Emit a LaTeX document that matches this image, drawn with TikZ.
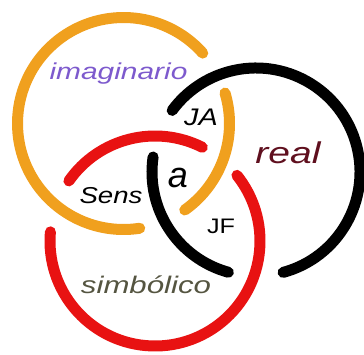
\documentclass[tikz,border=0pt]{standalone}
\usepackage{fontspec}
\setmainfont{Liberation Sans}
\newfontfamily\widesf[FakeStretch=1.3]{Liberation Sans}
\newfontfamily\midsf[FakeStretch=1.2]{Liberation Sans}
\usepackage{tikz}
\definecolor{imagorange}{RGB}{240,160,30}
\definecolor{symbred}{RGB}{232,18,18}
\definecolor{imagpurple}{RGB}{125,90,205}
\definecolor{realmaroon}{RGB}{95,15,30}
\definecolor{symbgray}{RGB}{85,85,65}

\begin{document}
\begin{tikzpicture}[x=1pt, y=1pt,
    ring/.style={line width=11pt, line cap=round},
    lbl/.style={anchor=base, inner sep=0pt}]
    \useasboundingbox (0,0) rectangle (364,354);

    % centres of the three rings
    \coordinate (imag) at (123.5,230.5);
    \coordinate (real) at (256,182);
    \coordinate (symb) at (155,113);

    % texts
    \node[lbl, imagpurple] (timag) at (118.5,274) {\fontsize{23}{23}\widesf\itshape imaginario};
    \node[lbl, realmaroon] (treal) at (288,191) {\fontsize{30}{30}\widesf\itshape real};
    \node[lbl, symbgray] (tsymb) at (146,61) {\fontsize{24}{24}\widesf\itshape simbólico};
    \node[lbl] (tsens) at (111,151) {\fontsize{23}{23}\midsf\itshape Sens};
    \node[lbl] (ta) at (178,167) {\fontsize{36}{36}\selectfont\itshape a};
    \node[lbl] (tjf) at (221,121) {\fontsize{21}{21}\midsf JF};
    \node[lbl] (tja) at (201,228) {\fontsize{24}{24}\midsf\itshape JA};

    % imaginario
    \draw[ring, imagorange] ([shift={(41.6:106)}]imag) arc[start angle=41.6, end angle=278.8, radius=106];
    \draw[ring, imagorange] ([shift={(-54.7:106)}]imag) arc[start angle=-54.7, end angle=16.7, radius=106];
    % real
    \draw[ring, black] ([shift={(-74.9:104)}]real) arc[start angle=-74.9, end angle=143.7, radius=104];
    \draw[ring, black] ([shift={(171.7:104)}]real) arc[start angle=171.7, end angle=254.6, radius=104];
    % simbolico
    \draw[ring, symbred] ([shift={(63.2:105)}]symb) arc[start angle=63.2, end angle=145.1, radius=105];
    \draw[ring, symbred] ([shift={(175:105)}]symb) arc[start angle=175, end angle=398.7, radius=105];
\end{tikzpicture}
\end{document}
